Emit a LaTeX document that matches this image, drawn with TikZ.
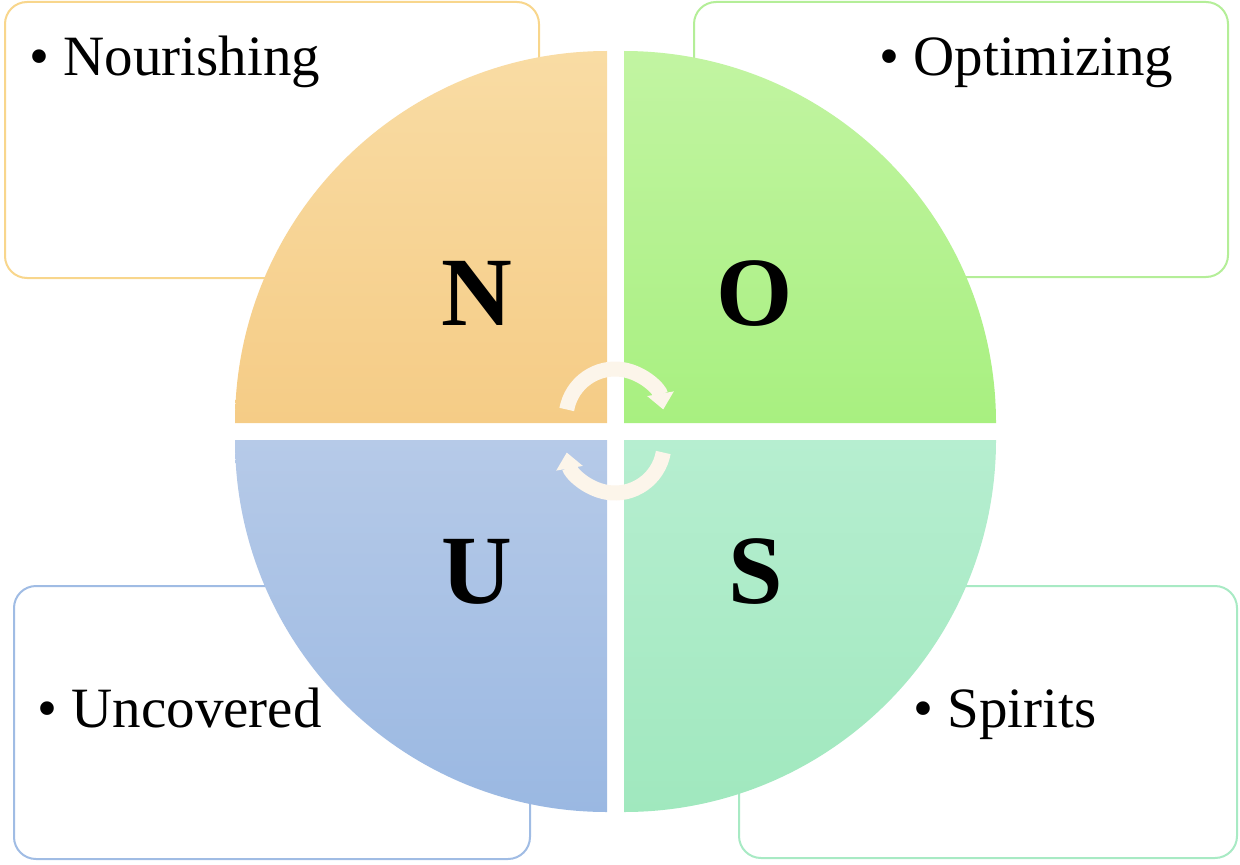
\documentclass[tikz,border=0pt]{standalone}
\usepackage{fontspec}
\setmainfont{Liberation Serif}
\usetikzlibrary{arrows.meta}
\definecolor{naranjaA}{RGB}{249,220,164}
\definecolor{naranjaB}{RGB}{245,204,134}
\definecolor{verdeA}{RGB}{194,244,162}
\definecolor{verdeB}{RGB}{168,240,128}
\definecolor{azulA}{RGB}{182,202,232}
\definecolor{azulB}{RGB}{154,184,226}
\definecolor{mentaA}{RGB}{182,238,208}
\definecolor{mentaB}{RGB}{160,232,190}
\definecolor{bordeN}{RGB}{248,214,140}
\definecolor{bordeO}{RGB}{180,238,152}
\definecolor{bordeU}{RGB}{160,188,228}
\definecolor{bordeS}{RGB}{168,234,196}
\definecolor{crema}{RGB}{252,245,234}
\tikzset{
 caja/.style={
 rectangle,
 rounded corners=11pt,
 line width=1pt,
 fill=white},
 letra/.style={
 font=\fontsize{49}{59}\selectfont\bfseries,
 inner sep=0pt,
 anchor=base},
 texto/.style={
 font=\fontsize{28.5}{34}\selectfont,
 inner sep=0pt,
 anchor=base west},
 flecha/.style={
 draw=crema,
 line width=7.5pt,
 -{Triangle[width=13pt,length=8pt]}}
}

\begin{document}
\begin{tikzpicture}[x=0.5pt,y=0.5pt]
 \useasboundingbox (0,0) rectangle (1240,864);

 % cajas
 \node[caja, draw=bordeN, minimum width=267pt, minimum height=138pt] (cajaN) at (272,724) {};
 \node[caja, draw=bordeO, minimum width=267pt, minimum height=137.5pt] (cajaO) at (961,724.5) {};
 \node[caja, draw=bordeU, minimum width=258pt, minimum height=136.5pt] (cajaU) at (272,141.5) {};
 \node[caja, draw=bordeS, minimum width=249pt, minimum height=136pt] (cajaS) at (988,142) {};

 % cuadrantes
 \shade[top color=naranjaA, bottom color=naranjaB] (607,441) -- (235,441) arc[start angle=180, end angle=90, radius=372] -- cycle;
 \shade[top color=verdeA, bottom color=verdeB] (624,441) -- (624,813) arc[start angle=90, end angle=0, radius=372] -- cycle;
 \shade[top color=azulA, bottom color=azulB] (607,424) -- (235,424) arc[start angle=180, end angle=270, radius=372] -- cycle;
 \shade[top color=mentaA, bottom color=mentaB] (624,424) -- (996,424) arc[start angle=0, end angle=-90, radius=372] -- cycle;

 \node[letra] (n) at (476.5,539) {N};
 \node[letra] (o) at (754.5,539) {O};
 \node[letra] (u) at (477,261) {U};
 \node[letra] (s) at (755.5,261) {S};

 \draw[flecha] (615,446) ++(170:49) arc[start angle=170, end angle=10, radius=49];
 \draw[flecha] (615,420) ++(-10:49) arc[start angle=-10, end angle=-170, radius=49];

 \node[texto] (textoN) at (29,788) {\textbullet\ Nourishing};
 \node[texto] (textoO) at (879,788) {\textbullet\ Optimizing};
 \node[texto] (textoU) at (37,137) {\textbullet\ Uncovered};
 \node[texto] (textoS) at (913,137) {\textbullet\ Spirits};
\end{tikzpicture}
\end{document}
